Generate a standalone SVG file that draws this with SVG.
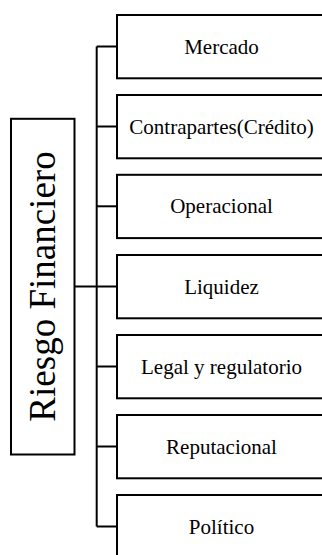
<svg xmlns="http://www.w3.org/2000/svg" width="322" height="555" viewBox="0 0 322 555">
<style>
.box{fill:#fff;stroke:#000;stroke-width:2}
.ln{fill:none;stroke:#000;stroke-width:2}
.t{font-family:"Liberation Serif","Times New Roman",serif;font-size:21px;text-anchor:middle;fill:#000}
.big{font-family:"Liberation Serif","Times New Roman",serif;font-size:37px;text-anchor:middle;fill:#000}
</style>
<rect width="322" height="555" fill="#fff"/>
<g id="connectors">
<path class="ln" d="M96.7,46.5 V526.5"/>
<path class="ln" d="M74.5,286.5 H96.7"/>
<path class="ln" d="M96.7,46.5 H117"/>
<path class="ln" d="M96.7,126.5 H117"/>
<path class="ln" d="M96.7,206.3 H117"/>
<path class="ln" d="M96.7,286.5 H117"/>
<path class="ln" d="M96.7,366.5 H117"/>
<path class="ln" d="M96.7,446.5 H117"/>
<path class="ln" d="M96.7,526.5 H117"/>
</g>
<g id="root">
<rect class="box" x="11" y="118.8" width="63.5" height="335.7"/>
<text class="big" transform="translate(55,286.5) rotate(-90)">Riesgo Financiero</text>
</g>
<g id="n1"><rect class="box" x="117" y="15" width="210" height="63.3"/><text class="t" x="221.5" y="53.5">Mercado</text></g>
<g id="n2"><rect class="box" x="117" y="95" width="210" height="63.3"/><text class="t" x="221.5" y="133.5">Contrapartes(Crédito)</text></g>
<g id="n3"><rect class="box" x="117" y="174.8" width="210" height="63.3"/><text class="t" x="221.5" y="213.3">Operacional</text></g>
<g id="n4"><rect class="box" x="117" y="255" width="210" height="63.3"/><text class="t" x="221.5" y="293.5">Liquidez</text></g>
<g id="n5"><rect class="box" x="117" y="335" width="210" height="63.3"/><text class="t" x="221.5" y="373.5">Legal y regulatorio</text></g>
<g id="n6"><rect class="box" x="117" y="415" width="210" height="63.3"/><text class="t" x="221.5" y="453.5">Reputacional</text></g>
<g id="n7"><rect class="box" x="117" y="495" width="210" height="63.3"/><text class="t" x="221.5" y="533.5">Político</text></g>
</svg>
